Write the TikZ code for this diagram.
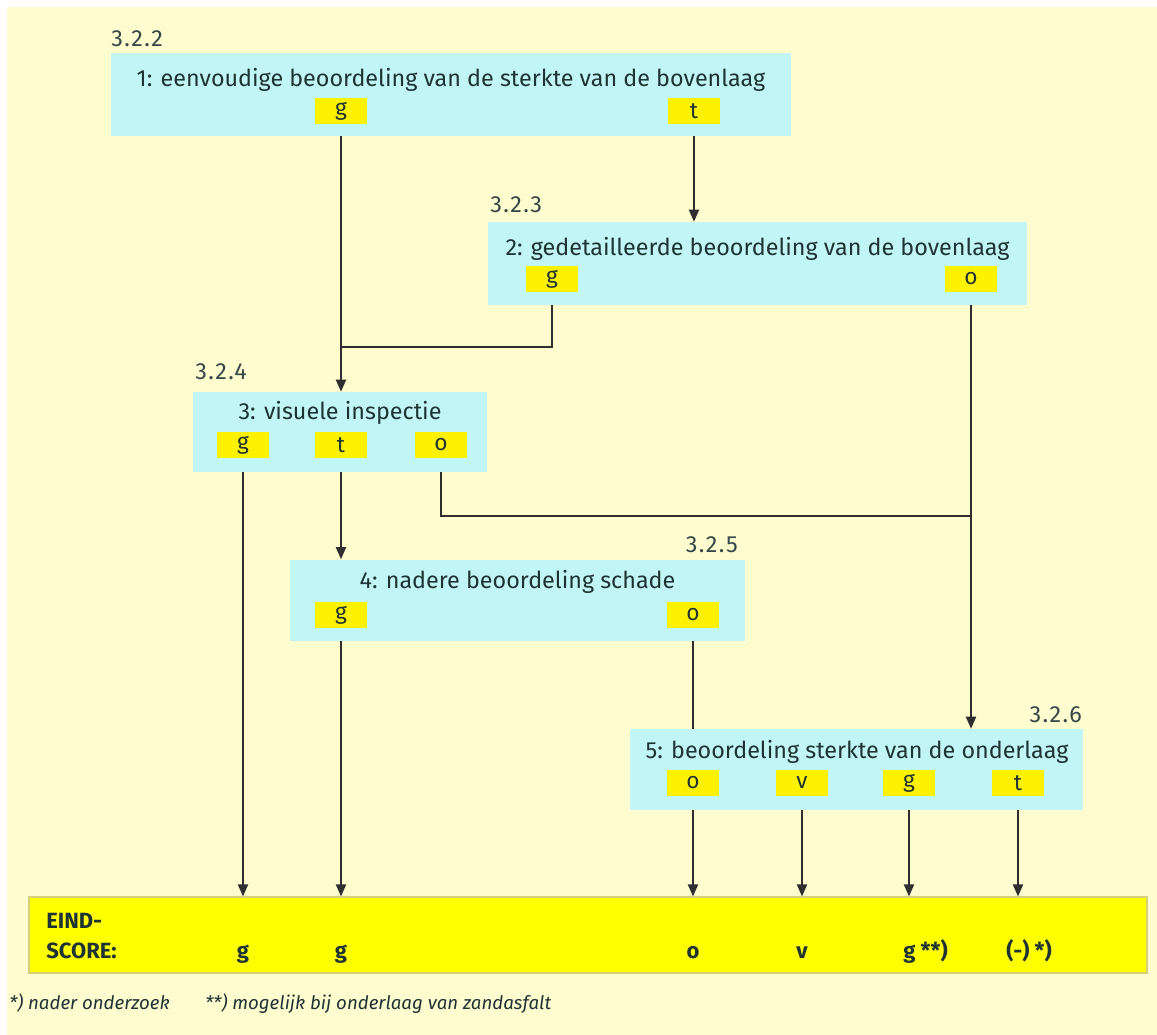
\documentclass[tikz,border=0pt]{standalone}
\usepackage{fontspec}
\setmainfont{Fira Sans}
\usetikzlibrary{arrows.meta}
\definecolor{paper}{HTML}{FFFCCF}
\definecolor{stagefill}{HTML}{C2F6F6}
\definecolor{outfill}{HTML}{FFF200}
\definecolor{scorefill}{HTML}{FFFF00}
\definecolor{scoreedge}{HTML}{D6CF78}
\definecolor{ink}{HTML}{1E3434}
\definecolor{wire}{HTML}{2E2E2E}
\tikzset{
  stagebox/.style={fill=stagefill, draw=none, inner sep=0pt},
  stagetitle/.style={text=ink, inner sep=0pt, font=\fontsize{17.5}{21}\selectfont},
  outcome/.style={fill=outfill, text=ink, inner sep=0pt, minimum width=39pt, minimum height=20pt, font=\fontsize{17}{20}\selectfont},
  secnum/.style={text=ink!90, inner sep=0pt, font=\fontsize{17.5}{21}\selectfont\addfontfeature{LetterSpace=6}},
  wireline/.style={draw=wire, line width=1.4pt},
  flow/.style={wireline, -{Triangle[length=9pt,width=7.5pt]}},
  scoretext/.style={text=ink, inner sep=0pt, font=\bfseries\fontsize{16.5}{20}\selectfont},
  footnote/.style={text=ink, inner sep=0pt, anchor=base west, font=\itshape\fontsize{14}{17}\selectfont},
}
\begin{document}
\begin{tikzpicture}[x=0.75pt,y=-0.75pt]
\useasboundingbox (0,0) rectangle (1157,1035);
\fill[paper] (7,7) rectangle (1157,1035);

% stage 1
\node[stagebox, minimum width=510pt, minimum height=62.25pt] (b1) at (451,94) {};
\node[stagetitle] (t1) at (451,80) {1: eenvoudige beoordeling van de sterkte van de bovenlaag};
\node[outcome] (l1g) at (341,111) {g};
\node[outcome] (l1t) at (694,111) {t};
\node[secnum, anchor=base west] (s1) at (111,46) {3.2.2};

% stage 2
\node[stagebox, minimum width=404.25pt, minimum height=62.25pt] (b2) at (757.5,263.5) {};
\node[stagetitle] (t2) at (757.5,249) {2: gedetailleerde beoordeling van de bovenlaag};
\node[outcome] (l2g) at (552,279) {g};
\node[outcome] (l2o) at (971,279) {o};
\node[secnum, anchor=base west] (s2) at (490,212) {3.2.3};

% stage 3
\node[stagebox, minimum width=220.5pt, minimum height=60pt] (b3) at (340,432) {};
\node[stagetitle] (t3) at (340,413) {3: visuele inspectie};
\node[outcome] (l3g) at (243,445) {g};
\node[outcome] (l3t) at (341,445) {t};
\node[outcome] (l3o) at (441,445) {o};
\node[secnum, anchor=base west] (s3) at (195,379) {3.2.4};

% stage 4
\node[stagebox, minimum width=341.25pt, minimum height=60.75pt] (b4) at (517.5,600) {};
\node[stagetitle] (t4) at (517.5,582) {4: nadere beoordeling schade};
\node[outcome] (l4g) at (341,615) {g};
\node[outcome] (l4o) at (693,615) {o};
\node[secnum, anchor=base east] (s4) at (738,552) {3.2.5};

% stage 5
\node[stagebox, minimum width=339.75pt, minimum height=60.75pt] (b5) at (856.5,769.5) {};
\node[stagetitle] (t5) at (857,752) {5: beoordeling sterkte van de onderlaag};
\node[outcome] (l5o) at (693,783) {o};
\node[outcome] (l5v) at (802,783) {v};
\node[outcome] (l5g) at (909,783) {g};
\node[outcome] (l5t) at (1018,783) {t};
\node[secnum, anchor=base east] (s5) at (1082,722) {3.2.6};

% final score bar
\node[fill=scorefill, draw=scoreedge, line width=0.8pt, inner sep=0pt, minimum width=838.5pt, minimum height=57pt] (eind) at (588,935) {};
\node[scoretext, anchor=base west] (eindA) at (46,928) {EIND-};
\node[scoretext, anchor=base west] (eindB) at (46,958) {SCORE:};
\node[scoretext, anchor=base] (e1) at (243,958) {g};
\node[scoretext, anchor=base] (e2) at (341,958) {g};
\node[scoretext, anchor=base] (e3) at (693,958) {o};
\node[scoretext, anchor=base] (e4) at (802,958) {v};
\node[scoretext, anchor=base west] (e5) at (903,958) {g **)};
\node[scoretext, anchor=base west] (e6) at (1006,958) {(-) *)};

% footnotes
\node[footnote] (n1) at (9,1009) {*) nader onderzoek};
\node[footnote] (n2) at (205,1009) {**) mogelijk bij onderlaag van zandasfalt};

% junction points
\coordinate (j1) at (341,347);
\coordinate (j2) at (971,516);

% connectors
\draw[flow] (l1g |- b1.south) -- (l1g |- b3.north);
\draw[wireline] (l2g |- b2.south) |- (j1);
\draw[flow] (l1t |- b1.south) -- (l1t |- b2.north);
\draw[flow] (l2o |- b2.south) -- (l2o |- b5.north);
\draw[wireline] (l3o |- b3.south) |- (j2);
\draw[flow] (l3g |- b3.south) -- (l3g |- eind.north);
\draw[flow] (l3t |- b3.south) -- (l3t |- b4.north);
\draw[flow] (l4g |- b4.south) -- (l4g |- eind.north);
\draw[wireline] (l4o |- b4.south) -- (l4o |- b5.north);
\draw[flow] (l5o |- b5.south) -- (l5o |- eind.north);
\draw[flow] (l5v |- b5.south) -- (l5v |- eind.north);
\draw[flow] (l5g |- b5.south) -- (l5g |- eind.north);
\draw[flow] (l5t |- b5.south) -- (l5t |- eind.north);
\end{tikzpicture}
\end{document}
